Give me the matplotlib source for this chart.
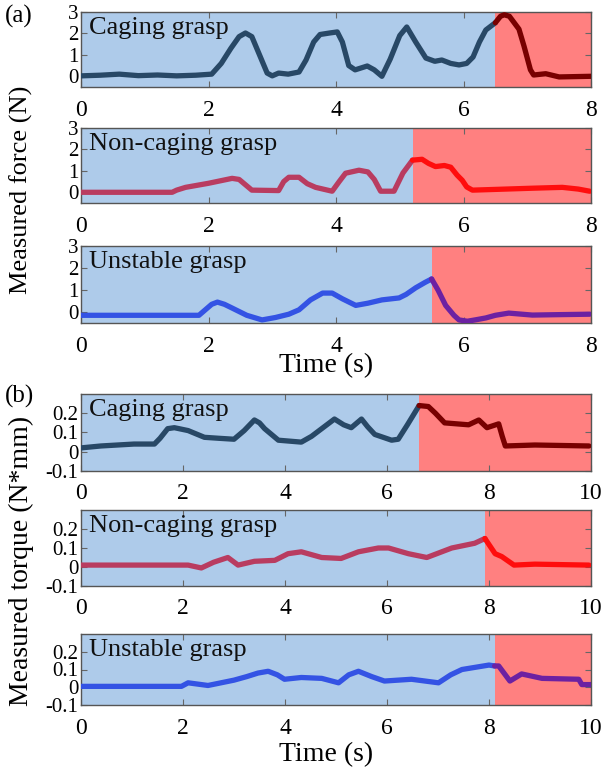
import matplotlib
matplotlib.use('Agg')
import matplotlib.pyplot as plt

plt.rcParams['font.family'] = ['Liberation Serif', 'DejaVu Serif']

# ---- (a) measured force ----
t_f_cage = [0, 0.3, 0.6, 0.9, 1.2, 1.5, 1.8, 2.05, 2.2, 2.35, 2.48, 2.58, 2.68, 2.8, 2.92, 3.0, 3.1, 3.25,
            3.42, 3.53, 3.65, 3.75, 3.9, 4.02, 4.1, 4.2, 4.3, 4.49, 4.6, 4.72, 4.85, 5.0, 5.11, 5.25, 5.41,
            5.55, 5.66, 5.8, 5.93, 6.05, 6.15, 6.25, 6.35, 6.5, 6.58, 6.64, 6.72, 6.87, 6.95, 7.05, 7.1,
            7.29, 7.5, 8.0]
f_cage = [0.02, 0.05, 0.1, 0.03, 0.06, 0.02, 0.05, 0.1, 0.6, 1.3, 1.85, 2.02, 1.85, 1.0, 0.15, 0.02, 0.15, 0.1,
          0.2, 0.76, 1.6, 1.95, 2.02, 2.07, 1.6, 0.5, 0.3, 0.48, 0.3, 0.0, 0.8, 1.9, 2.3, 1.6, 0.85,
          0.7, 0.76, 0.6, 0.53, 0.6, 0.9, 1.6, 2.16, 2.5, 2.8, 2.87, 2.8, 2.2, 1.4, 0.3, 0.06,
          0.12, -0.03, 0.0]

t_f_non = [0, 0.5, 1.0, 1.43, 1.5, 1.64, 2.0, 2.37, 2.48, 2.58, 2.68, 3.1, 3.18, 3.26, 3.42, 3.55, 3.68,
           3.94, 4.05, 4.15, 4.36, 4.5, 4.6, 4.7, 4.91, 5.05, 5.2, 5.35, 5.45, 5.56, 5.7, 5.8, 5.9, 5.98,
           6.05, 6.14, 6.56, 7.08, 7.55, 7.8, 7.98]
f_non = [0.0, 0.0, 0.0, 0.0, 0.1, 0.23, 0.42, 0.65, 0.6, 0.35, 0.1, 0.08, 0.5, 0.7, 0.7, 0.4, 0.23,
         0.05, 0.5, 0.89, 1.03, 0.95, 0.6, 0.05, 0.05, 0.9, 1.5, 1.54, 1.35, 1.2, 1.25, 1.17, 0.8, 0.56,
         0.25, 0.1, 0.14, 0.19, 0.23, 0.15, 0.05]

t_f_uns = [0, 0.5, 1.0, 1.5, 1.85, 1.95, 2.05, 2.14, 2.25, 2.37, 2.6, 2.84, 3.05, 3.26, 3.42, 3.6, 3.79,
           3.94, 4.1, 4.31, 4.5, 4.72, 4.99, 5.1, 5.25, 5.4, 5.5, 5.6, 5.72, 5.85, 5.93, 6.06, 6.2, 6.35,
           6.5, 6.71, 7.08, 7.5, 7.98]
f_uns = [-0.15, -0.15, -0.15, -0.15, -0.15, 0.1, 0.35, 0.45, 0.35, 0.18, -0.15, -0.36, -0.25, -0.1, 0.1, 0.55,
         0.86, 0.86, 0.6, 0.3, 0.4, 0.55, 0.64, 0.8, 1.1, 1.35, 1.5, 1.0, 0.3, -0.15, -0.36, -0.42, -0.35,
         -0.27, -0.15, -0.05, -0.14, -0.12, -0.1]

# ---- (b) measured torque ----
t_m_cage = [0, 0.39, 1.04, 1.44, 1.55, 1.7, 1.83, 2.1, 2.42, 2.7, 3.0, 3.2, 3.4, 3.5, 3.6, 3.87, 4.32,
            4.52, 4.72, 4.97, 5.15, 5.3, 5.5, 5.62, 5.76, 6.09, 6.22, 6.4, 6.63, 6.81, 6.95, 7.13, 7.6,
            7.8, 7.96, 8.19, 8.26, 8.32, 8.9, 9.96]
m_cage = [0.02, 0.03, 0.04, 0.04, 0.07, 0.12, 0.125, 0.11, 0.075, 0.07, 0.065, 0.11, 0.165, 0.15, 0.12, 0.06,
          0.05, 0.08, 0.12, 0.17, 0.14, 0.125, 0.17, 0.13, 0.09, 0.06, 0.065, 0.14, 0.24, 0.235, 0.2, 0.15,
          0.14, 0.165, 0.125, 0.145, 0.08, 0.03, 0.035, 0.03]

t_m_non = [0, 1.0, 2.1, 2.36, 2.6, 2.88, 3.08, 3.4, 3.8, 4.06, 4.32, 4.72, 5.1, 5.44, 5.83, 6.03, 6.42,
           6.78, 7.27, 7.72, 7.92, 8.12, 8.25, 8.49, 8.9, 9.96]
m_non = [0.01, 0.01, 0.01, -0.005, 0.025, 0.05, 0.01, 0.03, 0.035, 0.07, 0.08, 0.05, 0.045, 0.08, 0.1, 0.1,
         0.07, 0.05, 0.1, 0.125, 0.15, 0.07, 0.055, 0.01, 0.015, 0.01]

t_m_uns = [0, 1.0, 1.97, 2.1, 2.49, 3.0, 3.25, 3.47, 3.67, 3.85, 3.99, 4.32, 4.72, 5.05, 5.25, 5.44, 5.7,
           5.95, 6.48, 7.01, 7.25, 7.47, 8.0, 8.11, 8.19, 8.41, 8.64, 9.04, 9.76, 9.82, 10.0]
m_uns = [0.005, 0.005, 0.005, 0.025, 0.01, 0.04, 0.06, 0.08, 0.09, 0.07, 0.045, 0.055, 0.05, 0.025, 0.07, 0.09,
         0.06, 0.035, 0.045, 0.025, 0.07, 0.1, 0.125, 0.12, 0.12, 0.035, 0.075, 0.05, 0.045, 0.015, 0.015]

# time where the grasp switches (blue -> red region)
switch_force = [6.5, 5.2, 5.5]
switch_torque = [6.63, 7.92, 8.11]

names = ['Caging grasp', 'Non-caging grasp', 'Unstable grasp']
force_t = [t_f_cage, t_f_non, t_f_uns]
force_v = [f_cage, f_non, f_uns]
torque_t = [t_m_cage, t_m_non, t_m_uns]
torque_v = [m_cage, m_non, m_uns]

col_before = ['#284866', '#b93c60', '#3453e4']
col_after = ['#780000', '#ff0d0d', '#6c21a2']
bg_blue = '#aecbea'
bg_red = '#ff8080'

fig = plt.figure(figsize=(6.02, 7.76), dpi=100)

# axes boxes in pixels: (top, bottom)
boxes_a = [(12, 87), (128, 203), (246, 323)]
boxes_b = [(394, 471), (510, 586), (634, 705)]
W, H = 602.0, 776.0


def make_axes(top, bottom):
    return fig.add_axes([81 / W, 1 - bottom / H, 510 / W, (bottom - top) / H])


def draw(ax, t, v, sw, k, xmax, ylim, yticks, yticklabels, xticks):
    ax.axvspan(0, sw, color=bg_blue, lw=0, zorder=0)
    ax.axvspan(sw, xmax, color=bg_red, lw=0, zorder=0)
    t1 = [a for a in t if a <= sw]
    v1 = [b for a, b in zip(t, v) if a <= sw]
    t2 = [a for a in t if a >= sw]
    v2 = [b for a, b in zip(t, v) if a >= sw]
    # join the two parts at the switch point
    if t1 and t2 and t1[-1] != t2[0]:
        t2 = [t1[-1]] + t2
        v2 = [v1[-1]] + v2
    ax.plot(t1, v1, color=col_before[k], lw=3.8, solid_capstyle='round',
            solid_joinstyle='round', zorder=3)
    ax.plot(t2, v2, color=col_after[k], lw=3.8, solid_capstyle='round',
            solid_joinstyle='round', zorder=3)
    ax.set_xlim(0, xmax)
    ax.set_ylim(*ylim)
    ax.set_xticks(xticks)
    ax.set_yticks(yticks)
    ax.set_yticklabels(yticklabels)
    ax.tick_params(direction='in', top=True, right=True, length=4, color='#666666',
                   labelsize=17, pad=9)
    ax.tick_params(axis='y', labelsize=15, pad=2)
    for s in ax.spines.values():
        s.set_color('#555555')
        s.set_linewidth(1.0)
    ax.text(0.015, 0.93, names[k], transform=ax.transAxes, fontsize=19,
            va='top', ha='left', color='#111111', zorder=4)


for k, (top, bottom) in enumerate(boxes_a):
    ax = make_axes(top, bottom)
    draw(ax, force_t[k], force_v[k], switch_force[k], k, 8, (-0.5, 3.0),
         [0, 1, 2, 3], ['0', '1', '2', '3'], [0, 2, 4, 6, 8])

for k, (top, bottom) in enumerate(boxes_b):
    ax = make_axes(top, bottom)
    draw(ax, torque_t[k], torque_v[k], switch_torque[k], k, 10, (-0.1, 0.3),
         [-0.1, 0, 0.1, 0.2], ['-0.1', '0', '0.1', '0.2'], [0, 2, 4, 6, 8, 10])

fig.text(5 / W, 1 - 16 / H, '(a)', fontsize=18, va='center', ha='left')
fig.text(5 / W, 1 - 396 / H, '(b)', fontsize=18, va='center', ha='left')
fig.text(21 / W, 1 - 190 / H, 'Measured force (N)', fontsize=19, rotation=90, va='center', ha='center')
fig.text(21 / W, 1 - 561 / H, 'Measured torque (N*mm)', fontsize=20, rotation=90, va='center', ha='center')
fig.text(326 / W, 1 - 366 / H, 'Time (s)', fontsize=20, va='center', ha='center')
fig.text(326 / W, 1 - 755 / H, 'Time (s)', fontsize=20, va='center', ha='center')

fig.savefig('out.png', dpi=100)
